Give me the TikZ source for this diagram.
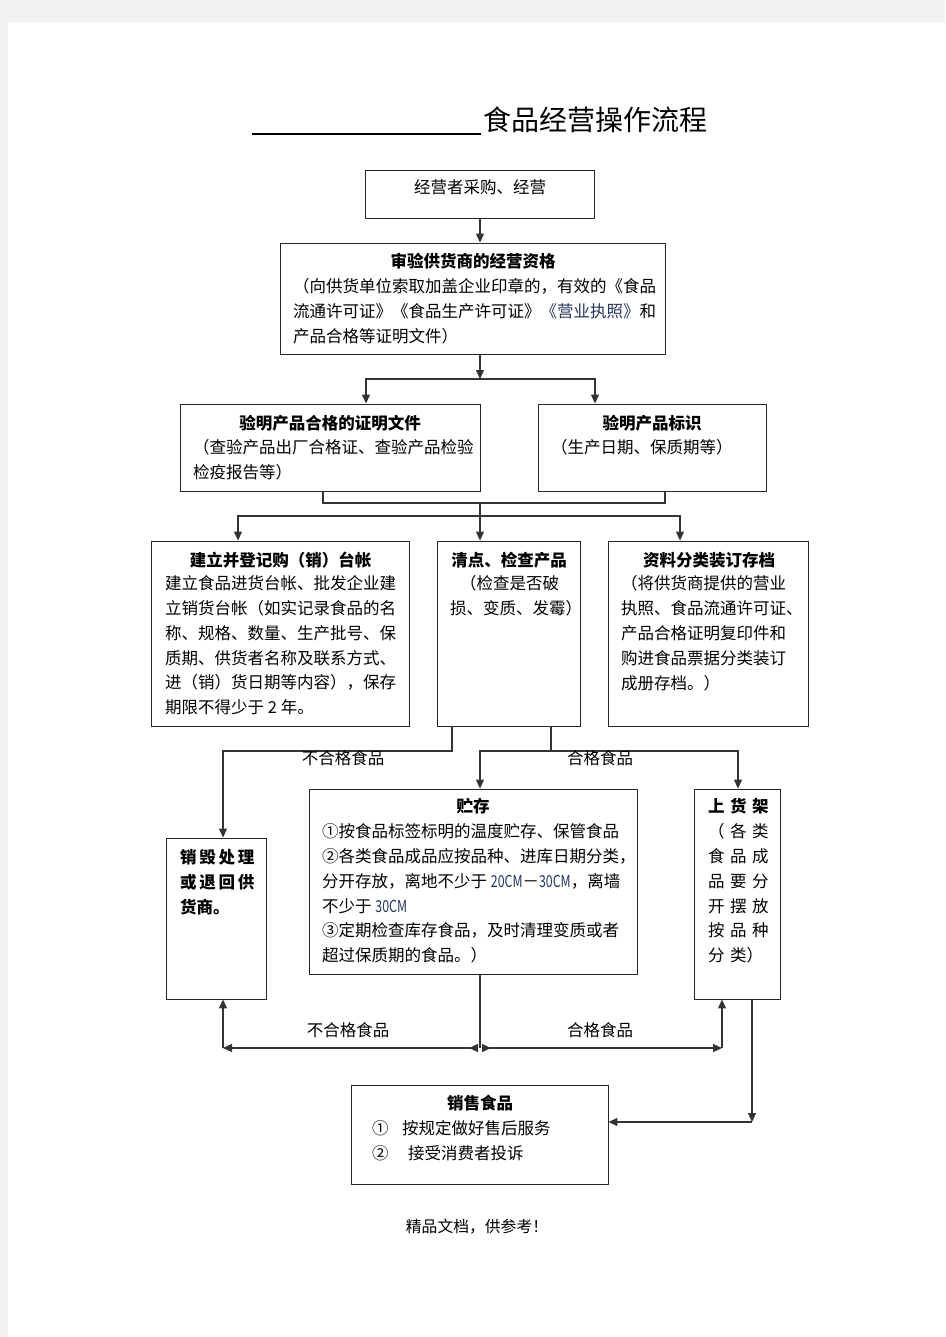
\documentclass[tikz,border=0pt]{standalone}
\usepackage{fontspec}
\setmainfont{Noto Sans CJK SC}
\usepackage{graphicx}
\usepackage{xcolor}
\usetikzlibrary{arrows.meta}
\definecolor{linkblue}{RGB}{40,52,95}
\definecolor{pagegray}{RGB}{242,242,242}
\newcommand{\cgap}{\hspace{5.5pt}}
\newcommand{\cm}[1]{{\color{linkblue}\scalebox{0.75}[1]{#1}}}

\begin{document}
\begin{tikzpicture}
[x=1pt,y=-1pt,
 box/.style={rectangle,draw=black!85,line width=0.9pt,inner sep=0pt},
 head/.style={font=\fontsize{16.5}{24.8}\selectfont\bfseries,inner sep=0pt,anchor=base},
 plain/.style={font=\fontsize{16.5}{24.8}\selectfont,inner sep=0pt,anchor=base},
 body/.style={font=\fontsize{16.5}{24.8}\selectfont,inner sep=0pt,align=left,anchor=north west},
 bodyb/.style={body,font=\fontsize{16.5}{24.8}\selectfont\bfseries},
 wire/.style={draw=black!80,line width=1.2pt},
 arr/.style={wire,-{Triangle[length=9pt,width=8pt]}},
 hv path/.style={to path={-| (\tikztotarget)}},
 vh path/.style={to path={|- (\tikztotarget)}}]
% page
\useasboundingbox (0,0) rectangle (945,1337);
\fill[pagegray] (0,0) rectangle (945,1337);
\fill[white] (8,22) rectangle (945,1337);
% title
\node[font=\fontsize{28}{30}\selectfont,inner sep=0pt,anchor=base] (title) at (595,130.6) {食品经营操作流程};
\draw[line width=1.2pt] (252,134) -- (481,134);
%
\node[box,minimum width=229pt,minimum height=48pt]  (buy)     at (480,194)     {};
\node[box,minimum width=385pt,minimum height=111pt] (check)   at (472.5,298.5) {};
\node[box,minimum width=300pt,minimum height=87pt]  (cert)    at (330,447.5)   {};
\node[box,minimum width=228pt,minimum height=87pt]  (mark)    at (652,447.5)   {};
\node[box,minimum width=258pt,minimum height=185pt] (ledger)  at (280,633.5)   {};
\node[box,minimum width=143pt,minimum height=185pt] (inspect) at (508.5,633.5) {};
\node[box,minimum width=200pt,minimum height=185pt] (archive) at (708,633.5)   {};
\node[box,minimum width=100pt,minimum height=161pt] (reject)  at (216,918.5)   {};
\node[box,minimum width=328pt,minimum height=185pt] (store)   at (473,881.5)   {};
\node[box,minimum width=86pt,minimum height=210pt]  (shelf)   at (737,894)     {};
\node[box,minimum width=257pt,minimum height=99pt]  (sell)    at (479.5,1134.5) {};
%
\node[plain] (buy-t) at (480,194) {经营者采购、经营};
\node[head] (check-h) at (473,268) {审验供货商的经营资格};
\node[body] (check-b) at (293,278.5) {（向供货单位索取加盖企业印章的，有效的《食品\\
  流通许可证》《食品生产许可证》{\color{linkblue}《营业执照》}和\\
  产品合格等证明文件）};
\node[head] (cert-h) at (330,429) {验明产品合格的证明文件};
\node[body] (cert-b) at (193,439.5) {（查验产品出厂合格证、查验产品检验\\检疫报告等）};
\node[head] (mark-h) at (652,429) {验明产品标识};
\node[body] (mark-b) at (551,439.5) {（生产日期、保质期等）};
\node[head] (ledger-h) at (280.5,566) {建立并登记购（销）台帐};
\node[body] (ledger-b) at (165,575.5) {建立食品进货台帐、批发企业建\\
  立销货台帐（如实记录食品的名\\
  称、规格、数量、生产批号、保\\
  质期、供货者名称及联系方式、\\
  进（销）货日期等内容），保存\\
  期限不得少于 2 年。};
\node[head] (inspect-h) at (509,566) {清点、检查产品};
\node[body] (inspect-b) at (450,575.5) {\hspace{10pt}（检查是否破\\损、变质、发霉）};
\node[head] (archive-h) at (709,566) {资料分类装订存档};
\node[body] (archive-b) at (621,575.5) {（将供货商提供的营业\\
  执照、食品流通许可证、\\
  产品合格证明复印件和\\
  购进食品票据分类装订\\
  成册存档。）};
\node[bodyb] (reject-b) at (180,849.5) {销\,毁\,处\,理\\或\,退\,回\,供\\货商。};
\node[head] (store-h) at (473,812) {贮存};
\node[body] (store-b) at (322,823.5) {①按食品标签标明的温度贮存、保管食品\\
  ②各类食品成品应按品种、进库日期分类，\\
  分开存放，离地不少于 \cm{20CM}－\cm{30CM}，离墙\\
  不少于 \cm{30CM}\\
  ③定期检查库存食品，及时清理变质或者\\
  超过保质期的食品。）};
\node[body] (shelf-b) at (708,798.5) {\textbf{上\cgap 货\cgap 架}\\
  （\cgap 各\cgap 类\\
  食\cgap 品\cgap 成\\
  品\cgap 要\cgap 分\\
  开\cgap 摆\cgap 放\\
  按\cgap 品\cgap 种\\
  分\cgap 类）};
\node[head] (sell-h) at (480,1109) {销售食品};
\node[body] (sell-b) at (372,1120.5) {①\hspace{13.5pt}按规定做好售后服务\\
  ②\hspace{19.5pt}接受消费者投诉};
% connectors
\coordinate (spl1)  at (480,379);
\coordinate (spl1l) at (366,379);
\coordinate (spl1r) at (595,379);
\coordinate (mrgl)  at (323,503);
\coordinate (mrgr)  at (665,503);
\coordinate (mrg)   at (480,503);
\coordinate (spl2)  at (480,516);
\coordinate (spl2l) at (238,516);
\coordinate (spl2r) at (680,516);
\draw[arr] (buy.south) -- (buy.south |- check.north);
\path[wire] (check.south -| spl1) edge[arr] (spl1)
      (spl1) edge[hv path,arr] (spl1l |- cert.north)
             edge[hv path,arr] (spl1r |- mark.north);
\draw[wire] (cert.south -| mrgl) -- (mrgl) -- (mrgr) -- (mark.south -| mrgr);
\draw[wire] (mrg) -- (spl2);
\path[wire] (spl2) edge[hv path,arr] (spl2l |- ledger.north)
                   edge[arr]         (inspect.north -| spl2)
                   edge[hv path,arr] (spl2r |- archive.north);
%
\coordinate (badj)  at (452,751);
\coordinate (badl)  at (223,751);
\coordinate (goodj) at (551,751);
\coordinate (goodl) at (480,751);
\coordinate (goodr) at (738,751);
\draw[arr] (inspect.south -| badj) -- (badj) -- (badl) -- (badl |- reject.north);
\path[wire] (inspect.south -| goodj) edge (goodj)
      (goodj) edge[hv path,arr] (goodl |- store.north)
              edge[hv path,arr] (goodr |- shelf.north);
\node[plain] (bad-t)  at (343,764) {不合格食品};
\node[plain] (good-t) at (600,764) {合格食品};
%
\coordinate (bot)  at (480,1048);
\coordinate (botl) at (223,1048);
\coordinate (botr) at (722,1048);
\draw[wire] (store.south -| bot) -- (bot);
\draw[wire,{Triangle[length=9pt,width=8pt]}-{Triangle[length=9pt,width=8pt,reversed]}] (botl) -- ([xshift=-2pt]bot);
\draw[wire,{Triangle[length=9pt,width=8pt,reversed]}-{Triangle[length=9pt,width=8pt]}] ([xshift=2pt]bot) -- (botr);
\draw[arr] (botl) -- (botl |- reject.south);
\draw[arr] (botr) -- (botr |- shelf.south);
\node[plain] (bad2-t)  at (348,1036) {不合格食品};
\node[plain] (good2-t) at (600,1036) {合格食品};
%
\coordinate (outj) at (752,1122);
\draw[arr] (shelf.south -| outj) -- (outj);
\draw[arr] (outj) -- (sell.east |- outj);
% footer
\node[font=\fontsize{15.8}{18}\selectfont,inner sep=0pt,anchor=base] (foot) at (477,1232) {精品文档，供参考！};
\end{tikzpicture}
\end{document}
